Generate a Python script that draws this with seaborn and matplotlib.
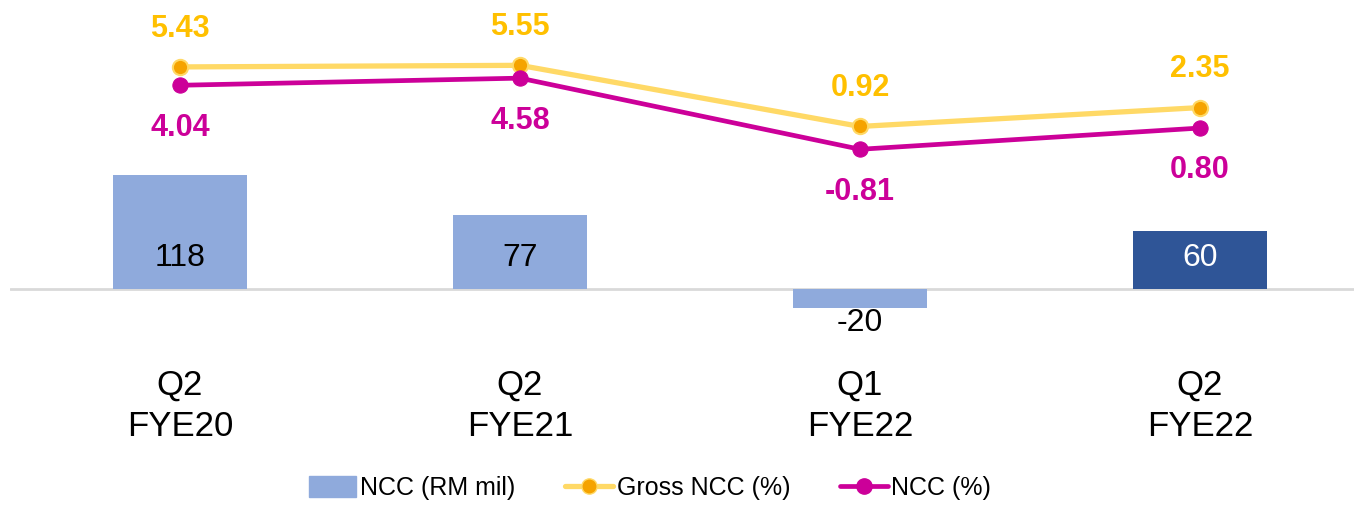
import matplotlib
matplotlib.use("Agg")
import matplotlib.pyplot as plt
import seaborn as sns
import numpy as np
import pandas as pd
from matplotlib.lines import Line2D
from matplotlib.patches import Patch
from matplotlib import font_manager

categories = ["Q2\nFYE20", "Q2\nFYE21", "Q1\nFYE22", "Q2\nFYE22"]
ncc_rm = [118, 77, -20, 60]
gross_ncc_pct = [5.43, 5.55, 0.92, 2.35]
ncc_pct = [4.04, 4.58, -0.81, 0.80]
bar_labels = ["118", "77", "-20", "60"]
gross_labels = ["5.43", "5.55", "0.92", "2.35"]
ncc_labels = ["4.04", "4.58", "-0.81", "0.80"]

sns.set_theme(style="white")
names = {f.name for f in font_manager.fontManager.ttflist}
fam = "Liberation Sans Narrow" if "Liberation Sans Narrow" in names else "Liberation Sans"
plt.rcParams["font.family"] = [fam, "DejaVu Sans"]
plt.rcParams["text.color"] = "black"

BAR_LIGHT = "#8faadc"
BAR_DARK = "#2f5597"
GROSS_LINE = "#ffd966"
GROSS_MARK = "#f5a300"
GROSS_TEXT = "#ffc000"
NCC_COL = "#cc0099"

W, H = 1354, 505
fig = plt.figure(figsize=(W / 100, H / 100), dpi=100)
ax = fig.add_axes([10 / W, 0, 1360 / W, 1])

df = pd.DataFrame({"cat": categories, "val": ncc_rm})
palette = {c: (BAR_DARK if i == len(categories) - 1 else BAR_LIGHT) for i, c in enumerate(categories)}
sns.barplot(data=df, x="cat", y="val", hue="cat", palette=palette, legend=False,
            width=0.394, saturation=1, ax=ax, zorder=2, linewidth=0)
ax.set_xlim(-0.5, 3.5)
ax.set_ylim(-225.5, 300.5)
ax.axhline(0, color="#d9d9d9", lw=2, zorder=1)
ax.set_xticks([])
ax.set_yticks([])
ax.set_xlabel("")
ax.set_ylabel("")
for s in ax.spines.values():
    s.set_visible(False)

pos = np.arange(len(categories))
for i, (v, lab) in enumerate(zip(ncc_rm, bar_labels)):
    col = "white" if i == len(categories) - 1 else "black"
    dy = 22 if v >= 0 else -25
    ax.annotate(lab, (pos[i], 0), xytext=(0, dy), textcoords="offset points",
                ha="center", va="center", fontsize=23, color=col if v >= 0 else "black")
    ax.annotate(categories[i], (pos[i], 0), xytext=(0, -84.5), textcoords="offset points",
                ha="center", va="center", fontsize=25, color="black", linespacing=1.32)

ax2 = ax.twinx()
sns.lineplot(x=pos, y=gross_ncc_pct, ax=ax2, color=GROSS_LINE, lw=3.8, marker="o",
             markersize=11, markerfacecolor=GROSS_MARK, markeredgecolor=GROSS_LINE,
             markeredgewidth=1.5, zorder=3)
sns.lineplot(x=pos, y=ncc_pct, ax=ax2, color=NCC_COL, lw=3.4, marker="o",
             markersize=11, markerfacecolor=NCC_COL, markeredgecolor=NCC_COL, zorder=4)
ax2.set_ylim(-27.76, 10.5)
ax2.set_xlim(-0.5, 3.5)
ax2.axis("off")

for i in range(len(categories)):
    ax2.annotate(gross_labels[i], (pos[i], gross_ncc_pct[i]), xytext=(0, 27.5), textcoords="offset points",
                 ha="center", va="center", fontsize=22, fontweight="bold", color=GROSS_TEXT)
    ax2.annotate(ncc_labels[i], (pos[i], ncc_pct[i]), xytext=(0, -30.5), textcoords="offset points",
                 ha="center", va="center", fontsize=22, fontweight="bold", color=NCC_COL)

handles = [
    Patch(facecolor=BAR_LIGHT, edgecolor=BAR_LIGHT),
    Line2D([0], [0], color=GROSS_LINE, lw=3.8, marker="o", markersize=11,
           markerfacecolor=GROSS_MARK, markeredgecolor=GROSS_LINE),
    Line2D([0], [0], color=NCC_COL, lw=3.4, marker="o", markersize=11,
           markerfacecolor=NCC_COL, markeredgecolor=NCC_COL),
]
labels = ["NCC (RM mil)", "Gross NCC (%)", "NCC (%)"]
leg = fig.legend(handles, labels, loc="center", bbox_to_anchor=(650 / W, 1 - 488 / H), ncol=3,
                 frameon=False, fontsize=18, handlelength=1.9, handletextpad=0.15,
                 columnspacing=2.0, handleheight=0.9)
for t in leg.get_texts():
    t.set_color("black")

fig.savefig("out.png", dpi=100)
